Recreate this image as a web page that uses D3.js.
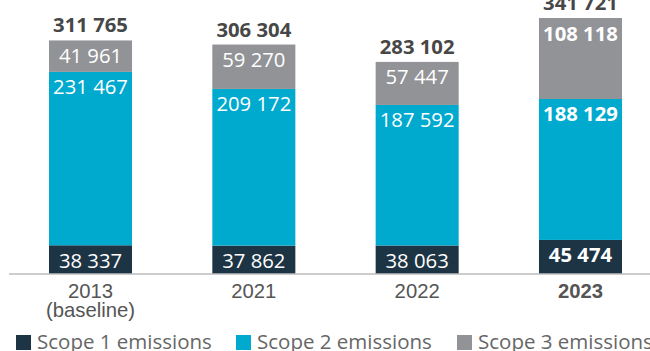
<!DOCTYPE html>
<html>
<head>
<meta charset="utf-8">
<script src="https://cdn.jsdelivr.net/npm/d3@7"></script>
<style>
  html, body { margin: 0; padding: 0; background: #fff; }
  svg { display: block; font-family: "Open Sans", sans-serif; }
</style>
</head>
<body>
<svg id="chart" width="650" height="351"></svg>
<script>
// Greenhouse gas emissions by scope (tCO2e)
const years = ["2013", "2021", "2022", "2023"];
const yearSubLabels = ["(baseline)", "", "", ""];
const scope1 = [38337, 37862, 38063, 45474];
const scope2 = [231467, 209172, 187592, 188129];
const scope3 = [41961, 59270, 57447, 108118];
const totals = [311765, 306304, 283102, 341721];
const seriesNames = ["Scope 1 emissions", "Scope 2 emissions", "Scope 3 emissions"];
const highlightYear = "2023";

const colors = ["#1d3445", "#00a9ce", "#929397"];

const svg = d3.select("#chart");
const W = 650;
const numSize = 20.3;

const rows = years.map((y, i) => ({ year: y, s1: scope1[i], s2: scope2[i], s3: scope3[i] }));
const keys = ["s1", "s2", "s3"];
const stacked = d3.stack().keys(keys)(rows);

const x = d3.scaleBand().domain(years).range([49, 622]).paddingInner(0.4917).paddingOuter(0);
const y = d3.scaleLinear().domain([0, d3.max(totals)]).range([274, 18]);

const fmt = v => d3.format(",")(v).replace(/,/g, " ");

// stacked segments
const layers = svg.append("g").selectAll("g").data(stacked).join("g")
  .attr("fill", (d, i) => colors[i]);

layers.selectAll("rect").data(d => d).join("rect")
  .attr("x", d => x(d.data.year))
  .attr("width", x.bandwidth())
  .attr("y", d => y(d[1]))
  .attr("height", d => y(d[0]) - y(d[1]));

// segment value labels, placed at the top of each segment
layers.each(function (layer) {
  d3.select(this).selectAll("text").data(layer).join("text")
    .attr("x", d => x(d.data.year) + x.bandwidth() / 2)
    .attr("y", d => y(d[1]) + 22.5)
    .attr("text-anchor", "middle")
    .attr("fill", "#fff")
    .attr("font-size", numSize)
    .attr("font-weight", d => d.data.year === highlightYear ? 700 : 400)
    .text(d => fmt(d[1] - d[0]));
});

// totals above each bar
svg.append("g").selectAll("text").data(years).join("text")
  .attr("x", d => x(d) + x.bandwidth() / 2)
  .attr("y", (d, i) => y(totals[i]) - 8)
  .attr("text-anchor", "middle")
  .attr("fill", "#474747")
  .attr("font-size", numSize)
  .attr("font-weight", 700)
  .text((d, i) => fmt(totals[i]));

// baseline axis
const xAxis = svg.append("g").attr("transform", "translate(0,274)")
  .call(d3.axisBottom(x).tickSize(0).tickPadding(0).tickFormat(""));
xAxis.select(".domain").attr("d", `M9,0H${W}`).attr("stroke", "#bdbdbd").attr("stroke-width", 1.6);

const tickText = xAxis.selectAll(".tick").append("text")
  .attr("text-anchor", "middle")
  .attr("fill", "#555")
  .attr("font-size", numSize)
  .attr("font-weight", d => d === highlightYear ? 700 : 400);
tickText.append("tspan").attr("x", 0).attr("y", 24.3).text(d => d);
tickText.append("tspan").attr("x", 0).attr("y", 43.3)
  .text((d, i) => yearSubLabels[years.indexOf(d)]);

// legend
const legendX = [16, 236, 457];
const legend = svg.append("g").selectAll("g").data(seriesNames).join("g")
  .attr("transform", (d, i) => `translate(${legendX[i]},335)`);
legend.append("rect").attr("width", 15).attr("height", 15).attr("fill", (d, i) => colors[i]);
legend.append("text").attr("x", 21).attr("y", 13.5)
  .attr("fill", "#666").attr("font-size", 20.5).text(d => d);
</script>
</body>
</html>
